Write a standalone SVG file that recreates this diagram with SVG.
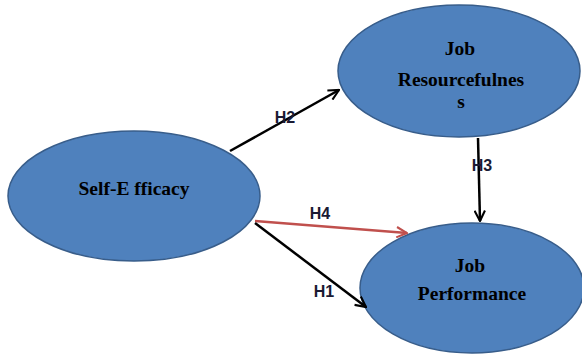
<svg xmlns="http://www.w3.org/2000/svg" width="582" height="354" viewBox="0 0 582 354">
<style>
.node{fill:#4F81BD;stroke:#385D8A;stroke-width:1.5}
.nt{font-family:"Liberation Serif",serif;font-weight:bold;font-size:19.5px;fill:#000;text-anchor:middle}
.lbl{font-family:"Liberation Sans",sans-serif;font-weight:bold;font-size:16px;fill:#1a1a33;text-anchor:middle}
.c{fill:none;stroke-width:2.5}
</style>
<defs>
<marker id="ab" viewBox="0 0 12 12" refX="11" refY="6" markerWidth="5" markerHeight="5" markerUnits="strokeWidth" orient="auto">
<polyline points="1,1 11,6 1,11" fill="none" stroke="#000" stroke-width="2"/>
</marker>
<marker id="ar" viewBox="0 0 12 12" refX="11" refY="6" markerWidth="5" markerHeight="5" markerUnits="strokeWidth" orient="auto">
<polyline points="1,1 11,6 1,11" fill="none" stroke="#C0504D" stroke-width="2"/>
</marker>
</defs>
<rect width="582" height="354" fill="#fff"/>
<g id="n-self">
<ellipse class="node" cx="134" cy="196" rx="126" ry="65"/>
<text class="nt" x="134" y="195">Self-E fficacy</text>
</g>
<g id="n-res">
<ellipse class="node" cx="459" cy="71" rx="121" ry="66"/>
<text class="nt" x="460" y="55">Job</text>
<text class="nt" x="461" y="86">Resourcefulnes</text>
<text class="nt" x="461" y="108">s</text>
</g>
<g id="n-perf">
<ellipse class="node" cx="472" cy="288" rx="112" ry="65"/>
<text class="nt" x="470" y="272">Job</text>
<text class="nt" x="472" y="300">Performance</text>
</g>
<g id="connectors">
<line class="c" stroke="#000" x1="230" y1="151" x2="339" y2="90" marker-end="url(#ab)"/>
<line class="c" stroke="#000" x1="478" y1="138" x2="480" y2="221" marker-end="url(#ab)"/>
<line class="c" stroke="#C0504D" x1="255" y1="221" x2="407" y2="233" marker-end="url(#ar)"/>
<line class="c" stroke="#000" x1="255" y1="223" x2="366" y2="307" marker-end="url(#ab)"/>
<text class="lbl" x="285" y="123">H2</text>
<text class="lbl" x="482" y="171">H3</text>
<text class="lbl" x="320" y="219">H4</text>
<text class="lbl" x="324" y="297">H1</text>
</g>
</svg>
